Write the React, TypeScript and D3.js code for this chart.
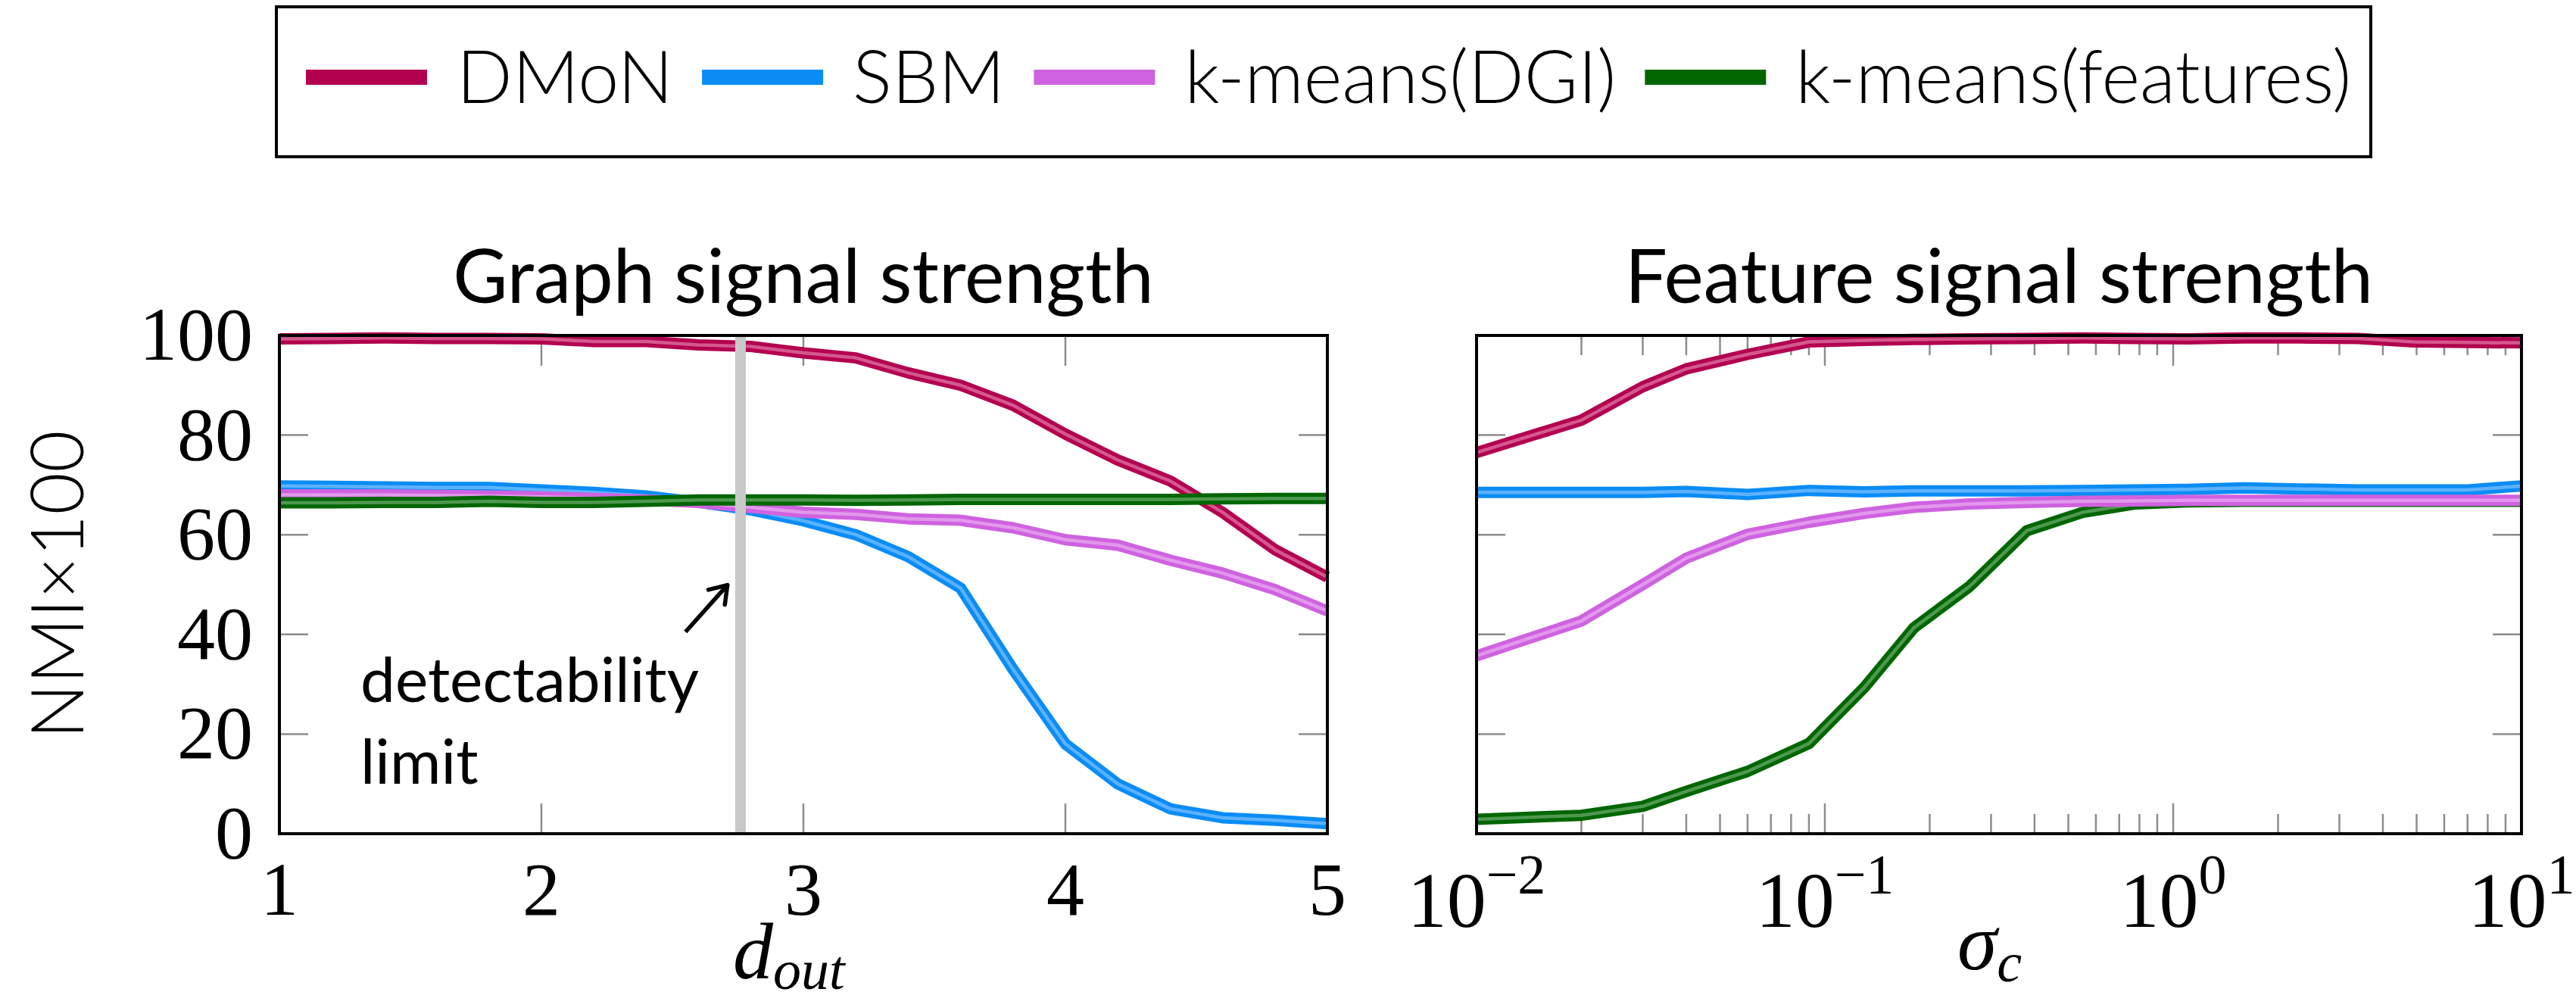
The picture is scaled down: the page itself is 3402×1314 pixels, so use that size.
import { useEffect, useRef } from "react";
import * as d3 from "d3";

const SERIES = ["DMoN", "SBM", "k-means(DGI)", "k-means(features)"];
const COLORS = ["#b3004f", "#0a8cf5", "#cf62e0", "#006600"];
const INNER = ["#d4588f", "#5cb2ff", "#e298ec", "#4f984f"];

// Graph signal strength (x = d_out)
const D_OUT = [1, 1.2, 1.4, 1.6, 1.8, 2, 2.2, 2.4, 2.6, 2.8, 3, 3.2, 3.4, 3.6, 3.8, 4, 4.2, 4.4, 4.6, 4.8, 5];
const G_DMON = [99.3, 99.4, 99.5, 99.4, 99.4, 99.3, 98.8, 98.8, 98.1, 97.8, 96.5, 95.5, 92.5, 90.0, 86.0, 80.2, 75.0, 70.8, 64.5, 57.0, 51.5];
const G_SBM = [69.8, 69.7, 69.6, 69.5, 69.5, 69.0, 68.5, 67.8, 66.5, 65.0, 62.8, 60.0, 55.6, 49.3, 33.0, 18.0, 10.0, 5.0, 3.2, 2.7, 2.0];
const G_DGI = [68.0, 68.0, 68.0, 67.9, 67.8, 67.6, 67.3, 67.0, 66.5, 65.5, 64.5, 64.1, 63.2, 62.9, 61.4, 59.0, 57.9, 54.9, 52.3, 49.0, 44.7];
const G_FEAT = [66.4, 66.4, 66.5, 66.5, 66.7, 66.5, 66.5, 66.7, 67.0, 67.0, 67.0, 66.9, 67.0, 67.1, 67.1, 67.1, 67.1, 67.1, 67.2, 67.3, 67.3];

// Feature signal strength (x = sigma_c)
const SIGMA = [0.01, 0.02, 0.03, 0.04, 0.06, 0.09, 0.13, 0.18, 0.26, 0.38, 0.55, 0.78, 1.1, 1.6, 2.3, 3.4, 4.9, 7, 10];
const F_DMON = [76.5, 83.0, 89.7, 93.3, 96.2, 98.7, 99.0, 99.2, 99.3, 99.4, 99.5, 99.4, 99.3, 99.5, 99.5, 99.4, 98.7, 98.6, 98.5];
const F_SBM = [68.5, 68.5, 68.5, 68.7, 68.1, 68.9, 68.6, 68.8, 68.8, 68.8, 68.9, 69.0, 69.1, 69.4, 69.2, 69.0, 69.0, 69.0, 69.8];
const F_DGI = [35.7, 42.7, 50.0, 55.3, 60.1, 62.5, 64.3, 65.5, 66.2, 66.5, 66.7, 66.8, 66.9, 66.9, 66.9, 66.9, 66.9, 66.9, 66.9];
const F_FEAT = [2.9, 3.7, 5.5, 8.5, 12.5, 18.1, 29.4, 41.3, 49.6, 60.8, 64.5, 66.2, 66.6, 66.7, 66.7, 66.7, 66.7, 66.7, 66.7];

const Y_TICKS = [0, 20, 40, 60, 80, 100];
const X_TICKS_LEFT = [1, 2, 3, 4, 5];
const X_DECADES = [-2, -1, 0, 1];
const DETECT_LIMIT = 2.76;

const SANS = "Lato, 'Open Sans', sans-serif";
const SERIF = "'Liberation Serif', 'DejaVu Serif', serif";

export default function App() {
  const svgRef = useRef<SVGSVGElement>(null);

  useEffect(() => {
    document.body.style.margin = "0";
    const el = svgRef.current;
    if (!el) return;
    const svg = d3.select(el);
    svg.selectAll("*").remove();

    const top = 443;
    const bottom = 1101;
    const ys = d3.scaleLinear().domain([0, 100]).range([bottom, top]);

    const drawSeries = (
      g: any,
      xs: any,
      xv: number[],
      rows: number[][],
      order: number[],
    ) => {
      order.forEach((k) => {
        const pts = xv.map((x, i) => [x, rows[k][i]] as [number, number]);
        const line = d3
          .line<[number, number]>()
          .x((d) => xs(d[0]))
          .y((d) => ys(d[1]));
        g.append("path")
          .datum(pts)
          .attr("fill", "none")
          .attr("stroke", COLORS[k])
          .attr("stroke-width", 15)
          .attr("stroke-linejoin", "round")
          .attr("d", line);
        g.append("path")
          .datum(pts)
          .attr("fill", "none")
          .attr("stroke", INNER[k])
          .attr("stroke-width", 4.5)
          .attr("stroke-linejoin", "round")
          .attr("d", line);
      });
    };

    const frame = (g: any, x0: number, x1: number) => {
      g.append("rect")
        .attr("x", x0)
        .attr("y", top)
        .attr("width", x1 - x0)
        .attr("height", bottom - top)
        .attr("fill", "none")
        .attr("stroke", "#000")
        .attr("stroke-width", 4);
    };

    const yTicks = (g: any, x0: number, x1: number, vals: number[]) => {
      vals.forEach((v) => {
        g.append("line")
          .attr("x1", x0).attr("x2", x0 + 38)
          .attr("y1", ys(v)).attr("y2", ys(v))
          .attr("stroke", "#8c8c8c").attr("stroke-width", 2.5);
        g.append("line")
          .attr("x1", x1 - 38).attr("x2", x1)
          .attr("y1", ys(v)).attr("y2", ys(v))
          .attr("stroke", "#8c8c8c").attr("stroke-width", 2.5);
      });
    };

    const xTick = (g: any, x: number, len: number) => {
      g.append("line")
        .attr("x1", x).attr("x2", x)
        .attr("y1", bottom).attr("y2", bottom - len)
        .attr("stroke", "#8c8c8c").attr("stroke-width", 2.5);
      g.append("line")
        .attr("x1", x).attr("x2", x)
        .attr("y1", top).attr("y2", top + len)
        .attr("stroke", "#8c8c8c").attr("stroke-width", 2.5);
    };

    // ---------- Left panel: Graph signal strength ----------
    const L = svg.append("g");
    const xl = d3.scaleLinear().domain([1, 5]).range([369, 1753]);

    X_TICKS_LEFT.slice(1, -1).forEach((t) => xTick(L, xl(t), 40));
    yTicks(L, 369, 1753, Y_TICKS.slice(1, -1));

    drawSeries(L, xl, D_OUT, [G_DMON, G_SBM, G_DGI, G_FEAT], [0, 1, 2, 3]);

    // detectability limit
    L.append("line")
      .attr("x1", xl(DETECT_LIMIT)).attr("x2", xl(DETECT_LIMIT))
      .attr("y1", top).attr("y2", bottom)
      .attr("stroke", "#c8c8c8").attr("stroke-width", 14);

    const ax0 = xl(2.55), ay0 = ys(40.5), ax1 = xl(2.71), ay1 = ys(49.9);
    L.append("line")
      .attr("x1", ax0).attr("y1", ay0).attr("x2", ax1).attr("y2", ay1)
      .attr("stroke", "#000").attr("stroke-width", 5.5);
    const ang = Math.atan2(ay1 - ay0, ax1 - ax0);
    [-0.6, 0.6].forEach((da) => {
      L.append("line")
        .attr("x1", ax1).attr("y1", ay1)
        .attr("x2", ax1 - 26 * Math.cos(ang + da))
        .attr("y2", ay1 - 26 * Math.sin(ang + da))
        .attr("stroke", "#000").attr("stroke-width", 5.5)
        .attr("stroke-linecap", "round");
    });
    L.append("text")
      .attr("x", 476).attr("y", 927)
      .attr("font-family", SANS).attr("font-size", 82)
      .text("detectability");
    L.append("text")
      .attr("x", 476).attr("y", 1035)
      .attr("font-family", SANS).attr("font-size", 82)
      .text("limit");

    frame(L, 369, 1753);

    Y_TICKS.forEach((v) => {
      L.append("text")
        .attr("x", 334).attr("y", ys(v) + 32)
        .attr("text-anchor", "end")
        .attr("font-family", SERIF).attr("font-size", 100)
        .text(v);
    });
    X_TICKS_LEFT.forEach((t) => {
      L.append("text")
        .attr("x", xl(t)).attr("y", 1208)
        .attr("text-anchor", "middle")
        .attr("font-family", SERIF).attr("font-size", 100)
        .text(t);
    });
    L.append("text")
      .attr("x", 1061).attr("y", 400)
      .attr("text-anchor", "middle")
      .attr("font-family", SANS).attr("font-size", 99)
      .text("Graph signal strength");
    const dl = L.append("text")
      .attr("x", 968).attr("y", 1292)
      .attr("font-family", SERIF).attr("font-style", "italic").attr("font-size", 106);
    dl.append("tspan").text("d");
    dl.append("tspan").attr("dy", 14).attr("font-size", 74).text("out");

    L.append("text")
      .attr("transform", `translate(110,${(top + bottom) / 2}) rotate(-90)`)
      .attr("text-anchor", "middle")
      .attr("font-family", SANS).attr("font-weight", 300).attr("font-size", 96)
      .text("NMI×100");

    // ---------- Right panel: Feature signal strength ----------
    const R = svg.append("g");
    const xr = d3.scaleLog().domain([0.01, 10]).range([1950, 3330]);

    X_DECADES.forEach((e, i) => {
      const base = Math.pow(10, e);
      if (i > 0 && i < X_DECADES.length - 1) xTick(R, xr(base), 40);
      if (i < X_DECADES.length - 1) {
        d3.range(2, 10).forEach((m) => xTick(R, xr(base * m), 26));
      }
    });
    yTicks(R, 1950, 3330, Y_TICKS.slice(1, -1));

    drawSeries(R, xr, SIGMA, [F_DMON, F_SBM, F_DGI, F_FEAT], [0, 3, 1, 2]);
    frame(R, 1950, 3330);

    X_DECADES.forEach((e) => {
      const t = R.append("text")
        .attr("x", xr(Math.pow(10, e))).attr("y", 1224)
        .attr("text-anchor", "middle")
        .attr("font-family", SERIF).attr("font-size", 104);
      t.append("tspan").text("10");
      t.append("tspan").attr("dy", -44).attr("font-size", 74)
        .text(e < 0 ? `\u2212${-e}` : `${e}`);
    });
    R.append("text")
      .attr("x", 2640).attr("y", 400)
      .attr("text-anchor", "middle")
      .attr("font-family", SANS).attr("font-size", 99)
      .text("Feature signal strength");
    const sl = R.append("text")
      .attr("x", 2585).attr("y", 1280)
      .attr("font-family", SERIF).attr("font-style", "italic").attr("font-size", 106);
    sl.append("tspan").text("σ");
    sl.append("tspan").attr("dy", 16).attr("font-size", 74).text("c");

    // ---------- Legend ----------
    const Lg = svg.append("g");
    Lg.append("rect")
      .attr("x", 365).attr("y", 9)
      .attr("width", 3131 - 365).attr("height", 198)
      .attr("fill", "#fff").attr("stroke", "#000").attr("stroke-width", 4);
    let lx = 404;
    SERIES.forEach((name, k) => {
      Lg.append("rect")
        .attr("x", lx).attr("y", 92)
        .attr("width", 160).attr("height", 20)
        .attr("fill", COLORS[k]);
      const txt = Lg.append("text")
        .attr("x", lx + 199).attr("y", 136)
        .attr("font-family", SANS).attr("font-weight", 300).attr("font-size", 97)
        .text(name);
      const w = (txt.node() as SVGTextElement).getComputedTextLength();
      lx = lx + 199 + w + 38;
    });
  }, []);

  return (
    <svg
      ref={svgRef}
      width={3402}
      height={1314}
      style={{ display: "block", background: "#fff" }}
    />
  );
}
